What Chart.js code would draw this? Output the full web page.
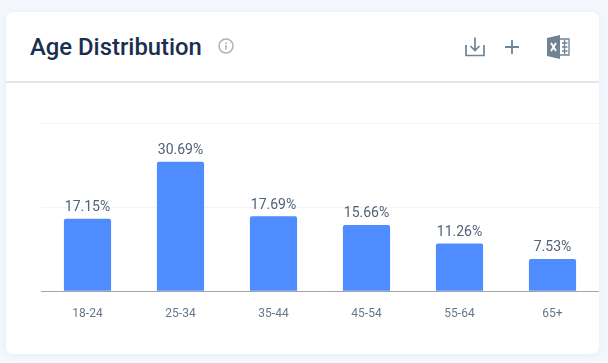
<!DOCTYPE html>
<html>
<head>
<meta charset="utf-8">
<title>Age Distribution</title>
<script src="https://cdn.jsdelivr.net/npm/chart.js@4"></script>
<style>
    html, body { margin: 0; padding: 0; width: 608px; height: 363px; overflow: hidden; background: #f4f8fe; font-family: Roboto, sans-serif; }
    .card { position: absolute; left: 6px; top: 12px; width: 593px; height: 342px; background: #fff; border-radius: 7px; box-shadow: 0 1px 8px rgba(140, 160, 190, 0.12); }
    .head-line { position: absolute; left: 6px; top: 81px; width: 593px; height: 2px; background: #e3e7eb; }
    h1 { position: absolute; left: 30px; top: 33px; margin: 0; font-size: 23.85px; line-height: 29px; font-weight: 500; color: #1a2f4f; white-space: nowrap; }
    svg.icon { position: absolute; overflow: visible; }
    .chart-box { position: absolute; left: 41px; top: 100px; width: 558px; height: 254px; }
</style>
</head>
<body>
<div class="card"></div>
<div class="head-line"></div>
<h1>Age Distribution</h1>

<!-- info -->
<svg class="icon" style="left:218px;top:38px" width="16" height="16" viewBox="0 0 16 16">
    <circle cx="8" cy="8" r="7" fill="none" stroke="#acb1b6" stroke-width="1.5"/>
    <rect x="7.2" y="7" width="1.6" height="4.6" fill="#acb1b6"/>
    <rect x="7.2" y="4.4" width="1.6" height="1.6" fill="#acb1b6"/>
</svg>
<!-- download -->
<svg class="icon" style="left:465px;top:36px" width="20" height="21" viewBox="0 0 20 21">
    <path d="M1 9V19.5H19V9" fill="none" stroke="#6f8296" stroke-width="1.7"/>
    <path d="M10 1.5V14M5.5 10L10 14.5L14.5 10" fill="none" stroke="#6f8296" stroke-width="1.7"/>
</svg>
<!-- plus -->
<svg class="icon" style="left:504px;top:39px" width="16" height="16" viewBox="0 0 16 16">
    <path d="M8 1V15M1 8H15" fill="none" stroke="#6f8296" stroke-width="1.8"/>
</svg>
<!-- excel -->
<svg class="icon" style="left:547px;top:35px" width="23" height="24" viewBox="0 0 23 24">
    <path d="M13 4H22V20H13" fill="none" stroke="#6f8296" stroke-width="1.3"/>
    <path d="M15 8H20.5M15 12H20.5M15 16H20.5M17.5 5V19" fill="none" stroke="#6f8296" stroke-width="1.3"/>
    <path d="M0 3L13 0V24L0 21Z" fill="#6f8296"/>
    <path d="M4 8L9 16M9 8L4 16" fill="none" stroke="#fff" stroke-width="1.9"/>
</svg>

<div class="chart-box"><canvas id="age-chart"></canvas></div>

<script>
const categories = ['18-24', '25-34', '35-44', '45-54', '55-64', '65+'];
const shares = [17.15, 30.69, 17.69, 15.66, 11.26, 7.53];
const axisTop = 40;
const axisStep = 20;

// value labels above the bars
const barLabels = {
    id: 'barLabels',
    afterDatasetsDraw(chart) {
        const ctx = chart.ctx;
        const bars = chart.getDatasetMeta(0).data;
        ctx.save();
        ctx.font = '14px Roboto';
        ctx.fillStyle = '#4f6277';
        ctx.textAlign = 'center';
        ctx.textBaseline = 'alphabetic';
        bars.forEach((bar, i) => {
            ctx.fillText(shares[i].toFixed(2) + '%', bar.x, bar.y - 8);
        });
        ctx.restore();
    }
};

new Chart(document.getElementById('age-chart').getContext('2d'), {
    type: 'bar',
    data: {
        labels: categories,
        datasets: [{
            data: shares,
            backgroundColor: '#4f8cff',
            barThickness: 46.5,
            borderRadius: { topLeft: 2, topRight: 2 }
        }]
    },
    options: {
        responsive: true,
        maintainAspectRatio: false,
        animation: false,
        layout: { padding: { top: 23, left: 0, right: 0, bottom: 0 } },
        scales: {
            x: {
                afterFit(scale) { scale.height = 63; },
                grid: { display: false },
                border: { color: '#a3a6a9', width: 1 },
                ticks: {
                    padding: 8,
                    maxRotation: 0,
                    autoSkip: false,
                    color: '#66778a',
                    font: { family: 'Roboto', size: 12 }
                }
            },
            y: {
                min: 0,
                max: axisTop,
                grid: { color: '#f4f5f7', drawTicks: false },
                border: { display: false },
                ticks: { display: false, stepSize: axisStep }
            }
        },
        plugins: {
            legend: { display: false },
            tooltip: { enabled: false }
        }
    },
    plugins: [barLabels]
});
</script>
</body>
</html>
